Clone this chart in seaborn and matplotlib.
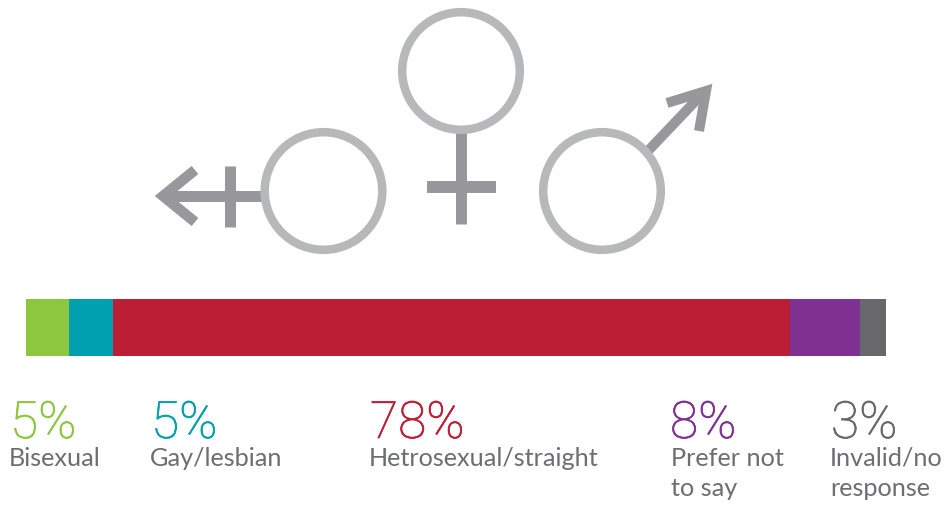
import numpy as np
import pandas as pd
import matplotlib.pyplot as plt
import seaborn as sns
import matplotlib.patheffects as pe
from matplotlib.lines import Line2D
from matplotlib.patches import Circle

categories = ['Bisexual', 'Gay/lesbian', 'Hetrosexual/straight', 'Prefer not\nto say', 'Invalid/no\nresponse']
values = [5, 5, 78, 8, 3]
colors = ['#8dc63f', '#00a0af', '#bb1e35', '#7f3191', '#68686c']

W, H = 946, 507
label_x = [9, 150, 369, 671, 830]
pct_x = [10, 151, 370, 670, 831]

sns.set_theme(style='white')
plt.rcParams['font.family'] = ['Lato', 'DejaVu Sans']

fig = plt.figure(figsize=(W / 100, H / 100), dpi=100)

# stacked bar: cumulative totals drawn longest first so they overlap
df = pd.DataFrame({'category': categories, 'total': np.cumsum(values), 'row': 'all'})
bar_ax = fig.add_axes([26 / W, 1 - 356 / H, 860 / W, 57 / H])
sns.barplot(data=df[::-1], x='total', y='row', hue='category', palette=dict(zip(categories, colors)),
            dodge=False, width=1, saturation=1, legend=False, linewidth=0, ax=bar_ax)
bar_ax.set_xlim(0, sum(values))
bar_ax.set_ylim(0.5, -0.5)
bar_ax.axis('off')

# pixel overlay for the symbols and text
ax = fig.add_axes([0, 0, 1, 1], facecolor='none')
ax.set_xlim(0, W)
ax.set_ylim(H, 0)
ax.axis('off')

ring = '#b7b8ba'
stem = '#98989c'


def stroke(xs, ys, w, z=1):
    ax.add_line(Line2D(xs, ys, color=stem, lw=w * 0.72, solid_capstyle='butt',
                       solid_joinstyle='miter', zorder=z))


# left symbol
stroke([262, 166], [196, 196], 11)
stroke([230, 230], [166, 227], 11)
stroke([195, 163, 195], [170, 196, 222], 10.5)
# middle symbol
stroke([461, 461], [130, 224], 11)
stroke([427, 496], [187, 187], 12)
# right symbol
stroke([646, 704], [153, 92], 10)
stroke([667, 706, 699], [103, 91, 131], 10)

for cx, cy in [(323.5, 191), (461, 71), (602, 191)]:
    ax.add_patch(Circle((cx, cy), 58.8, fill=True, fc='white', ec=ring, lw=8.5 * 0.72, zorder=2))

for c, v, col, lx, px in zip(categories, values, colors, label_x, pct_x):
    t = ax.text(px, 438, f'{v}%', color=col, fontsize=37, family=['Roboto', 'DejaVu Sans'], fontweight='light',
                va='baseline', ha='left')
    t.set_path_effects([pe.withStroke(linewidth=0.5, foreground=col)])
    for i, line in enumerate(c.split('\n')):
        ax.text(lx, 466 + 30 * i, line, color='#6d6e71', fontsize=18.2, va='baseline', ha='left')

fig.savefig('out.png', dpi=100, facecolor='white')
